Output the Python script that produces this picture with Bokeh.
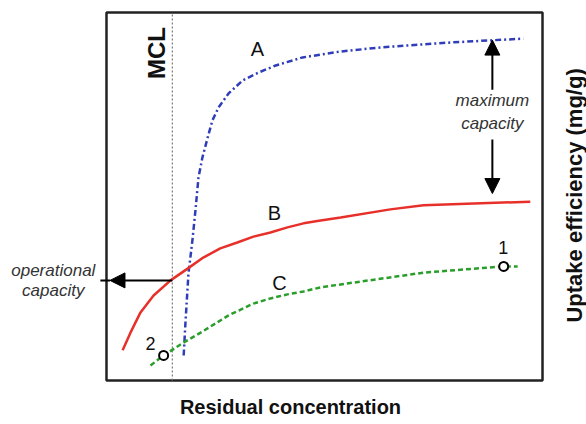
from bokeh.plotting import figure
from bokeh.models import Label, Arrow, NormalHead, Range1d
from bokeh.embed import file_html
from bokeh.resources import INLINE

# ---- data (arbitrary units; plot box spans 0..100 on both axes) ----
a_x = [17.7, 18.1, 18.8, 19.7, 20.4, 21.1, 22.0, 23.2, 24.3, 25.7, 28.0, 31.2, 34.9, 38.8, 45.0, 53.7, 62.8, 78.2, 95.6]
a_y = [6.8, 15.5, 29.1, 38.0, 46.2, 55.2, 60.6, 66.0, 70.7, 74.2, 78.0, 81.5, 83.7, 85.6, 87.8, 89.4, 90.5, 91.8, 92.9]

b_x = [3.7, 5.5, 7.8, 10.8, 14.7, 18.6, 22.2, 26.1, 30.0, 33.7, 37.6, 41.5, 45.2, 49.1, 53.7, 65.1, 72.7, 97.2]
b_y = [8.2, 13.0, 18.5, 23.1, 27.2, 30.4, 33.4, 35.9, 37.5, 39.1, 40.2, 41.6, 42.7, 43.5, 44.3, 46.5, 47.6, 48.6]

c_x = [10.1, 13.1, 17.4, 21.6, 28.0, 33.7, 37.6, 41.5, 45.2, 49.1, 53.7, 72.7, 91.1, 94.3]
c_y = [4.1, 6.8, 10.1, 13.0, 17.7, 20.9, 22.3, 23.4, 24.2, 25.3, 26.1, 29.3, 31.0, 31.0]

pt_x = [91.1, 13.1]
pt_y = [31.0, 6.8]

mcl_x = 15.1
operational_y = 27.2
max_cap_x = 88.5

BOX = (0, 100, 0, 100)  # left, right, bottom, top of the drawn plot box

FONT = "Liberation Sans"

p = figure(width=586, height=424, output_backend="svg", toolbar_location=None,
           x_axis_type=None, y_axis_type=None,
           x_range=Range1d(-24.31, 110.09), y_range=Range1d(-11.96, 103.26),
           min_border=0)
p.grid.visible = False
p.outline_line_color = None
p.background_fill_color = "white"
p.border_fill_color = "white"

# plot box
p.quad(left=[BOX[0]], right=[BOX[1]], bottom=[BOX[2]], top=[BOX[3]],
       fill_color=None, line_color="#222222", line_width=2.5)

# MCL dotted line
p.segment(x0=[mcl_x], y0=[BOX[2]], x1=[mcl_x], y1=[BOX[3]], line_color="#777777",
          line_width=1.2, line_dash="2 2")

p.line(a_x, a_y, line_color="#2f3db8", line_width=2.5, line_dash="6 3 2 3")
p.line(b_x, b_y, line_color="#e8302a", line_width=2.5)
p.line(c_x, c_y, line_color="#2a9e2a", line_width=2.5, line_dash="5 3")

p.scatter(pt_x, pt_y, size=9, marker="circle", fill_color="white",
          line_color="black", line_width=2)


def lab(x, y, t, size="20px", style="normal", align="center", angle=0, color="#111111"):
    p.add_layout(Label(x=x, y=y, text=t, text_font=FONT, text_font_size=size,
                       text_font_style=style, text_align=align, text_baseline="middle",
                       angle=angle, text_color=color))


lab(34.6, 90.2, "A")
lab(38.5, 45.6, "B")
lab(39.7, 26.6, "C")
lab(91.0, 36.2, "1", size="18px")
lab(10.1, 10.1, "2", size="18px")

lab(11.5, 89.0, "MCL", size="24px", style="bold", angle=1.5708)

lab(max_cap_x, 76.1, "maximum", size="17px", style="italic", color="#333333")
lab(max_cap_x, 69.8, "capacity", size="17px", style="italic", color="#333333")


def head():
    return NormalHead(size=15, fill_color="black", line_color="black")


p.add_layout(Arrow(end=head(), x_start=max_cap_x, y_start=79.0, x_end=max_cap_x, y_end=92.5,
                   line_width=2, line_color="black"))
p.add_layout(Arrow(end=head(), x_start=max_cap_x, y_start=65.5, x_end=max_cap_x, y_end=50.8,
                   line_width=2, line_color="black"))
p.add_layout(Arrow(end=head(), x_start=mcl_x, y_start=operational_y, x_end=0.8, y_end=operational_y,
                   line_width=2, line_color="black"))
p.segment(x0=[0.8], y0=[operational_y], x1=[-1.4], y1=[operational_y], line_color="black", line_width=2)

lab(-12.2, 29.9, "operational", size="17px", style="italic", color="#333333")
lab(-12.2, 24.5, "capacity", size="17px", style="italic", color="#333333")

lab(42.2, -7.3, "Residual concentration", size="20px", style="bold")
lab(107.3, 50.3, "Uptake efficiency (mg/g)", size="22px", style="bold", angle=1.5708)

open("out.html", "w").write(file_html(p, INLINE))
